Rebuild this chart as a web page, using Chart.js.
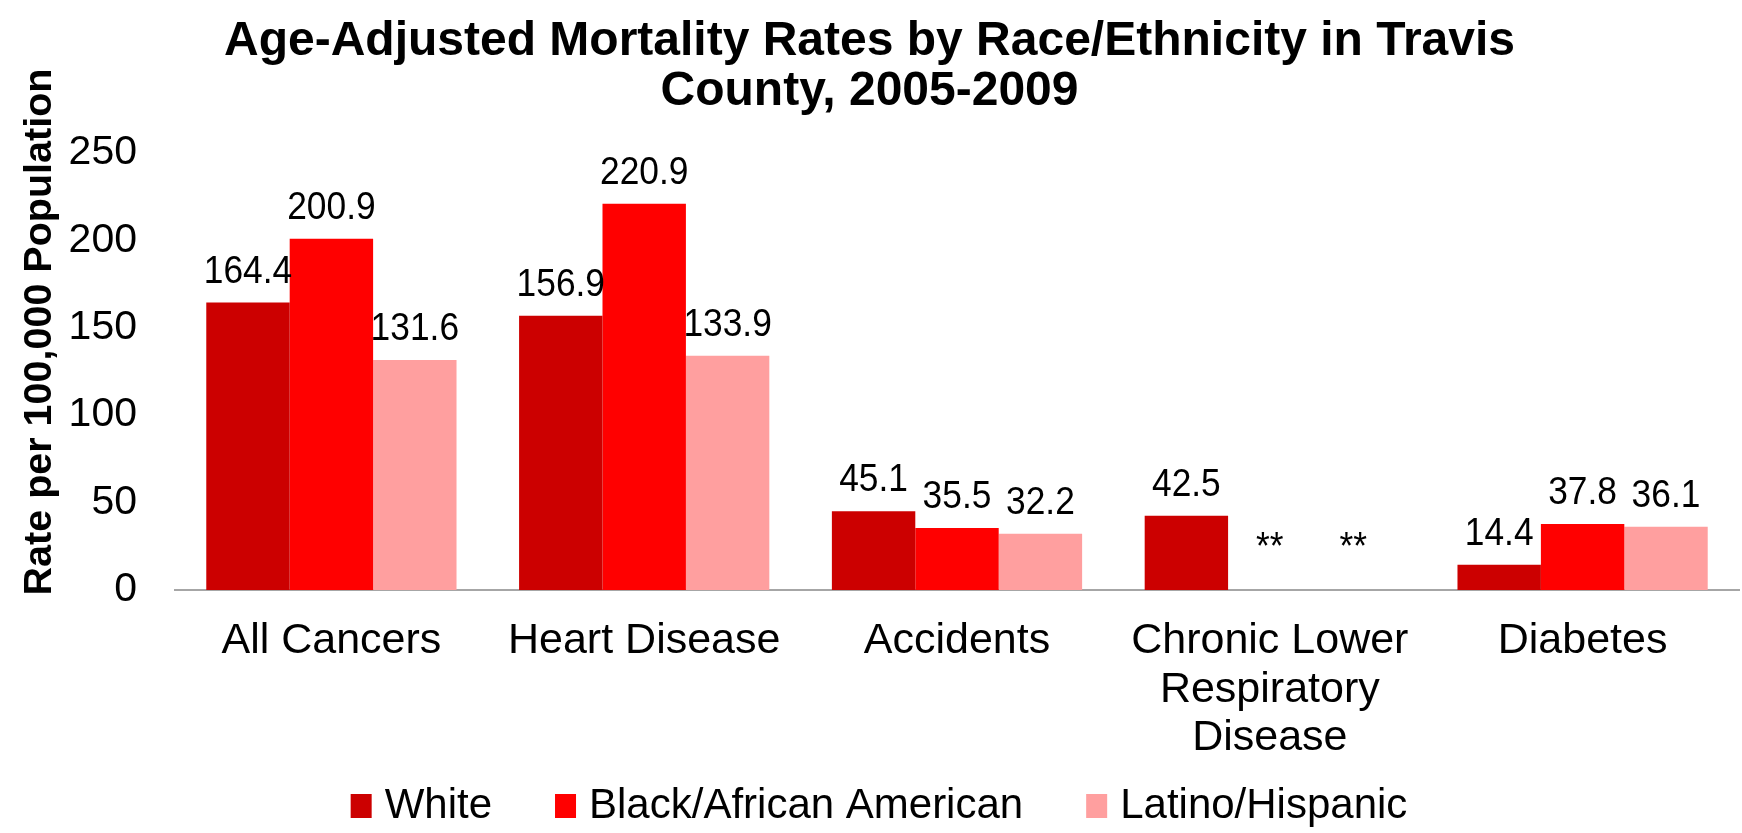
<!DOCTYPE html>
<html>
<head>
<meta charset="utf-8">
<script src="https://cdn.jsdelivr.net/npm/chart.js@4.4.1/dist/chart.umd.min.js"></script>
<style>
  html, body { margin: 0; padding: 0; background: #fff; }
  #wrap { width: 1742px; height: 833px; }
</style>
</head>
<body>
<div id="wrap"><canvas id="mortalityChart" width="1742" height="833"></canvas></div>
<script>
const FONT = '"Liberation Sans", Arial, sans-serif';

// Rates per 100,000, 2005-2009
const categories = ['All Cancers', 'Heart Disease', 'Accidents', ['Chronic Lower', 'Respiratory', 'Disease'], 'Diabetes'];
const whiteRates = [164.4, 156.9, 45.1, 42.5, 14.4];
const blackRates = [200.9, 220.9, 35.5, null, 37.8];
const latinoRates = [131.6, 133.9, 32.2, null, 36.1];
const seriesNames = ['White', 'Black/African American', 'Latino/Hispanic'];
const seriesColors = ['#CC0000', '#FF0000', '#FF9F9F'];
const yMin = 0, yMax = 250, yStep = 50;
const suppressedText = '**';
const yTitle = 'Rate per 100,000 Population';

// value labels above each bar, "**" where the rate is suppressed
const valueLabels = {
    id: 'valueLabels',
    afterDatasetsDraw(chart) {
        const ctx = chart.ctx;
        const y = chart.scales.y;
        ctx.save();
        ctx.font = '38px ' + FONT;
        ctx.fillStyle = '#000';
        ctx.textAlign = 'center';
        ctx.textBaseline = 'alphabetic';
        chart.data.datasets.forEach((ds, i) => {
            chart.getDatasetMeta(i).data.forEach((bar, j) => {
                const v = ds.data[j];
                const top = v == null ? y.getPixelForValue(0) - 11 : bar.y;
                ctx.save();
                ctx.translate(bar.x, top - 20);
                ctx.scale(0.93, 1);
                ctx.fillText(v == null ? suppressedText : v.toFixed(1), 0, 0);
                ctx.restore();
            });
        });
        ctx.restore();
    }
};

// rotated y axis title, sits higher than the axis centre
const yAxisTitle = {
    id: 'yAxisTitle',
    afterDraw(chart) {
        const ctx = chart.ctx;
        ctx.save();
        ctx.translate(40, 332);
        ctx.rotate(-Math.PI / 2);
        ctx.font = 'bold 39.5px ' + FONT;
        ctx.fillStyle = '#000';
        ctx.textAlign = 'center';
        ctx.textBaseline = 'middle';
        ctx.fillText(yTitle, 0, 0);
        ctx.restore();
    }
};

// legend row: small keys close to their text, wide gaps between entries
const legendRow = {
    id: 'legendRow',
    afterDraw(chart) {
        const ctx = chart.ctx;
        const boxW = 21, boxH = 24, textGap = 13, itemGap = 63;
        ctx.save();
        ctx.font = '42px ' + FONT;
        const items = chart.data.datasets.map(ds => ({
            text: ds.label,
            color: ds.backgroundColor,
            w: ctx.measureText(ds.label).width
        }));
        const total = items.reduce((s, it) => s + boxW + textGap + it.w, 0) + itemGap * (items.length - 1);
        let x = (chart.width - total) / 2 + 8;
        const baseline = 818;
        ctx.textAlign = 'left';
        ctx.textBaseline = 'alphabetic';
        items.forEach(it => {
            ctx.fillStyle = it.color;
            ctx.fillRect(x, baseline - boxH, boxW, boxH);
            ctx.fillStyle = '#000';
            ctx.fillText(it.text, x + boxW + textGap, baseline);
            x += boxW + textGap + it.w + itemGap;
        });
        ctx.restore();
    }
};

const ctx = document.getElementById('mortalityChart').getContext('2d');
const mortalityChart = new Chart(ctx, {
    type: 'bar',
    data: {
        labels: categories,
        datasets: [
            { label: seriesNames[0], data: whiteRates, backgroundColor: seriesColors[0] },
            { label: seriesNames[1], data: blackRates, backgroundColor: seriesColors[1] },
            { label: seriesNames[2], data: latinoRates, backgroundColor: seriesColors[2] }
        ]
    },
    options: {
        responsive: false,
        animation: false,
        layout: { padding: { left: 0, right: 3, top: 0, bottom: 0 } },
        datasets: { bar: { categoryPercentage: 0.8, barPercentage: 1.0 } },
        plugins: {
            title: {
                display: true,
                text: ['Age-Adjusted Mortality Rates by Race/Ethnicity in Travis', 'County, 2005-2009'],
                color: '#000',
                font: { family: FONT, size: 48, weight: 'bold', lineHeight: 1.04 },
                padding: { top: 17, bottom: 36 }
            },
            legend: { display: false },
            tooltip: { enabled: false }
        },
        scales: {
            x: {
                grid: { display: false, drawTicks: false },
                border: { display: true, color: '#A6A6A6', width: 2 },
                ticks: {
                    color: '#000',
                    font: { family: FONT, size: 43, lineHeight: 1.13 },
                    padding: 27,
                    maxRotation: 0,
                    autoSkip: false
                },
                afterFit(scale) { scale.height = 243; }
            },
            y: {
                min: yMin,
                max: yMax,
                grid: { display: false, drawTicks: false },
                border: { display: false },
                ticks: {
                    stepSize: yStep,
                    color: '#000',
                    font: { family: FONT, size: 41 },
                    padding: 38
                },
                afterFit(scale) { scale.width = 175; }
            }
        }
    },
    plugins: [valueLabels, yAxisTitle, legendRow]
});
</script>
</body>
</html>
